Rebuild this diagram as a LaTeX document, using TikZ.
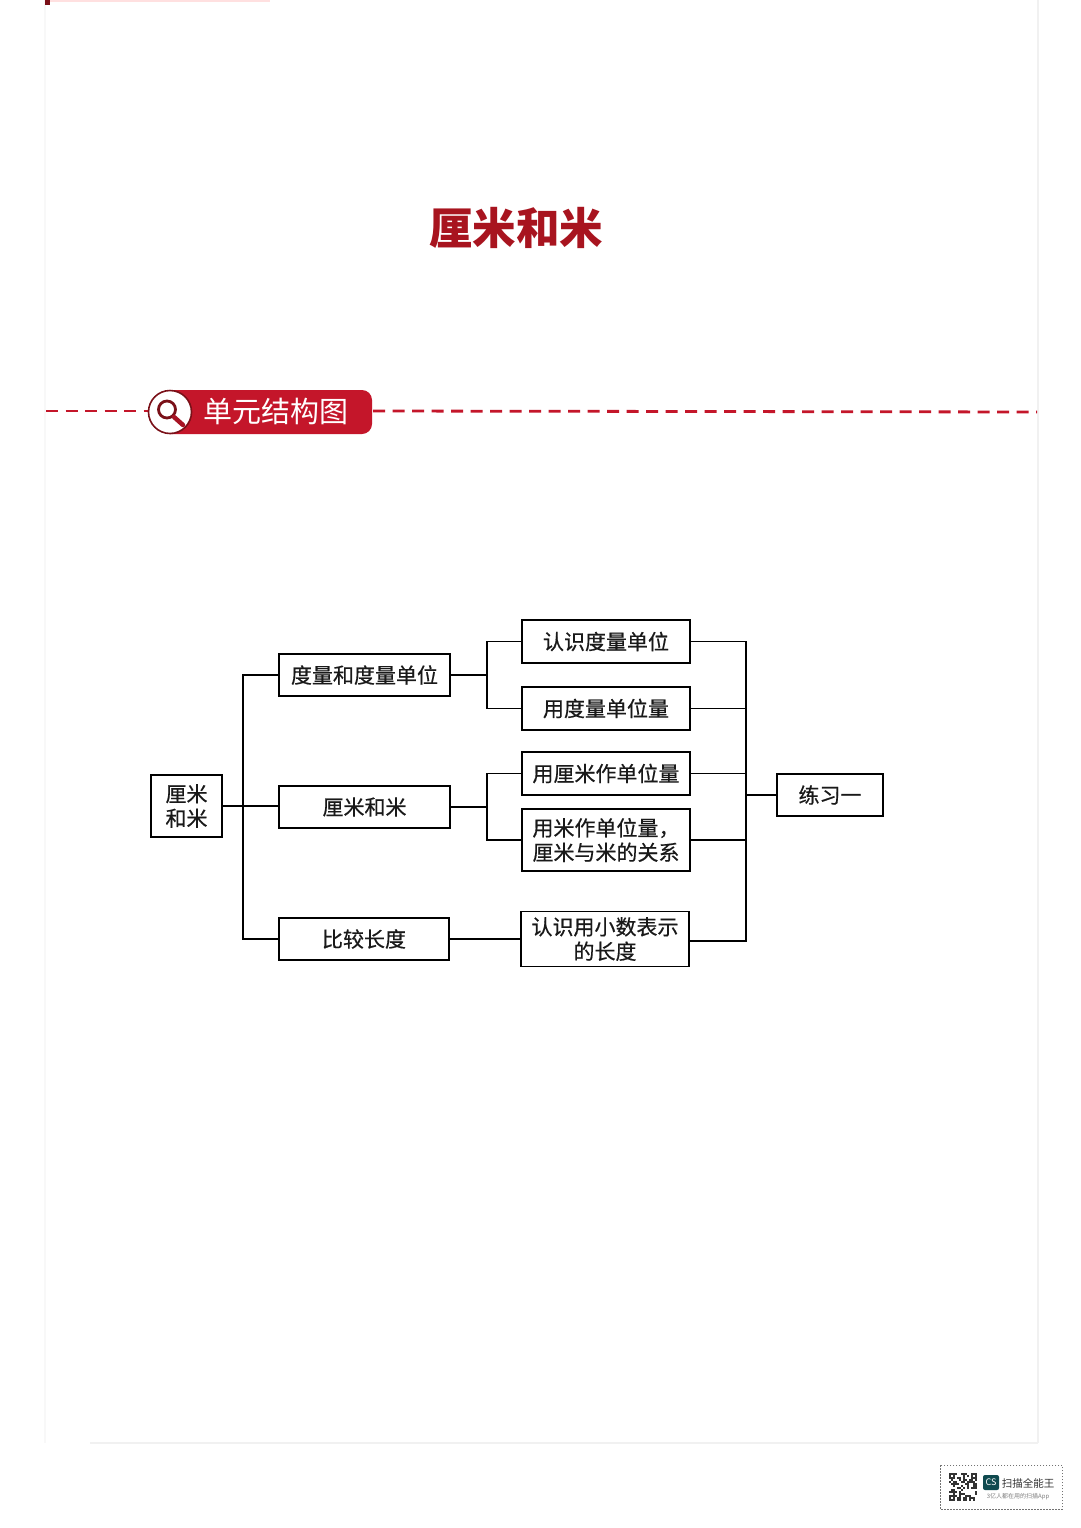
\documentclass[tikz,border=0pt]{standalone}
\usepackage{fontspec}
\setmainfont[FakeBold=0.5]{Noto Sans CJK SC}
\newfontfamily\plainfont{Noto Sans CJK SC}
\usetikzlibrary{calc}
\definecolor{bannerred}{HTML}{C4162A}
\definecolor{titlered}{HTML}{A8141F}
\definecolor{darkred}{HTML}{7A1018}
\definecolor{csgreen}{HTML}{0F4A4F}
\definecolor{edgegrey}{HTML}{F1F1F1}
\definecolor{edgefaint}{HTML}{F8F8F8}
\newcommand{\liftup}[1]{\raisebox{1pt}{#1}}
\tikzset{
  x=1pt,y=-1pt,
  boxnode/.style={draw=black,line width=1.5pt,fill=white,inner sep=0pt,align=center,font=\fontsize{21}{25}\selectfont,text=black!90},
  link/.style={draw=black,line width=1.5pt,line cap=rect},
  redrule/.style={draw=bannerred,line width=2.8pt,dash pattern=on 12pt off 7.5pt},
  edgeline/.style={draw=edgegrey,line width=1.2pt},
  faintline/.style={draw=edgefaint,line width=1.2pt},
}
\begin{document}
\begin{tikzpicture}
\useasboundingbox[fill=white] (0,0) rectangle (1080,1528);
% page edges of the scan
\draw[edgeline] (1038,0) -- (1038,1443);
\draw[edgeline] (90,1443) -- (1038,1443);
\draw[faintline] (45,0) -- (45,1443);
\fill[darkred] (45,0) rectangle (50,5);
\fill[red!12!white] (50,0) rectangle (270,2.5);
% title
\node (title) at (516,228) {\fontsize{43.5}{44}\selectfont\plainfont\bfseries\textcolor{titlered}{厘米和米}};
% banner
\coordinate (ruleA) at (46,411);
\coordinate (ruleB) at (148,411);
\coordinate (ruleC) at (373,411);
\coordinate (ruleD) at (1037,412);
\draw[redrule] (ruleA) -- (ruleB);
\draw[redrule] (ruleC) -- (ruleD);
\fill[bannerred] (170,390) -- (362,390) arc[start angle=-90,end angle=0,radius=10] -- (372,424) arc[start angle=0,end angle=90,radius=10] -- (170,434) -- cycle;
\node (bannertext) at (276,411) {\fontsize{29}{30}\selectfont\plainfont\textcolor{white}{单元结构图}};
\draw[darkred,line width=1.6pt,fill=white] (170,412) circle[radius=21.5];
\draw[darkred,line width=2.8pt] (167,409.5) circle[radius=8.5];
\draw[bannerred!85!black,line width=4.5pt,line cap=round] (174,417) -- (183,425);
% diagram nodes
\node[boxnode,minimum width=71pt,minimum height=62pt] (root) at (186.5,806) {\liftup{厘米}\\[-0.5pt]\liftup{和米}};
\node[boxnode,minimum width=171pt,minimum height=42pt] (a1) at (364.5,675) {\liftup{度量和度量单位}};
\node[boxnode,minimum width=171pt,minimum height=42pt] (a2) at (364.5,807) {\liftup{厘米和米}};
\node[boxnode,minimum width=170pt,minimum height=42pt] (a3) at (364,939) {比较长度};
\node[boxnode,minimum width=168pt,minimum height=43pt] (b1) at (606,641.5) {\liftup{认识度量单位}};
\node[boxnode,minimum width=168pt,minimum height=43pt] (b2) at (606,708.5) {\liftup{用度量单位量}};
\node[boxnode,minimum width=168pt,minimum height=43pt] (b3) at (606,773.5) {\liftup{用厘米作单位量}};
\node[boxnode,minimum width=168pt,minimum height=62pt] (b4) at (606,840) {\liftup{用米作单位量，}\\[-0.5pt]\liftup{厘米与米的关系}};
\node[boxnode,minimum width=168pt,minimum height=55pt] (b5) at (605,939) {\liftup{认识用小数表示}\\[-0.5pt]\liftup{的长度}};
\node[boxnode,minimum width=106pt,minimum height=42pt] (c) at (830,795) {\liftup{练习一}};
% connectors
\coordinate (trunkL) at (243,807);
\coordinate (splitA) at (487,675);
\coordinate (splitB) at (487,807);
\coordinate (trunkR) at (746,795);
\coordinate (b5out) at ($(b5.east)+(0,2)$);
\draw[link] (root.east) -- (root.east -| a2.west);
\draw[link] (a1.west) -| (trunkL) |- (a3.west);
\draw[link] (a1.east) -- (splitA);
\draw[link] (b1.west) -| (splitA) |- (b2.west);
\draw[link] (a2.east) -- (splitB);
\draw[link] (b3.west) -| (splitB) |- (b4.west);
\draw[link] (a3.east) -- (b5.west);
\draw[link] (b1.east) -| (trunkR) |- (b5out);
\draw[link] (b2.east) -- (b2.east -| trunkR);
\draw[link] (b3.east) -- (b3.east -| trunkR);
\draw[link] (b4.east) -- (b4.east -| trunkR);
\draw[link] (c.west) -- (trunkR);
% scanner stamp
\draw[black!55,line width=.6pt,dash pattern=on 1.5pt off 1.5pt] (940,1465) rectangle (1062,1509);
\fill[black!80] (949,1473) rectangle (977,1501);
\pgfmathsetseed{7}
\foreach \i in {0,...,13}{\foreach \j in {0,...,13}{
  \pgfmathparse{(\i<3&&\j<3)||(\i>10&&\j<3)||(\i<3&&\j>10)?0:random(0,1)}
  \pgfmathtruncatemacro{\qrbit}{\pgfmathresult}
  \ifnum\qrbit>0
    \fill[white] ({949+2*\i},{1473+2*\j}) rectangle ++(2,2);
  \fi
}}
\fill[white] (951,1475) rectangle (953,1477);
\fill[white] (973,1475) rectangle (975,1477);
\fill[white] (951,1497) rectangle (953,1499);
\fill[csgreen,rounded corners=2pt] (983,1475) rectangle (999,1490);
\node (cslogo) at (991,1482) {\fontsize{9}{9}\selectfont\plainfont\textcolor{white}{CS}};
\node (csname) at (1028,1483) {\fontsize{10.5}{11}\selectfont\plainfont\textcolor{black!80}{扫描全能王}};
\node (csline) at (1018,1497) {\fontsize{6}{6}\selectfont\plainfont\textcolor{black!50}{3亿人都在用的扫描App}};
\end{tikzpicture}
\end{document}
